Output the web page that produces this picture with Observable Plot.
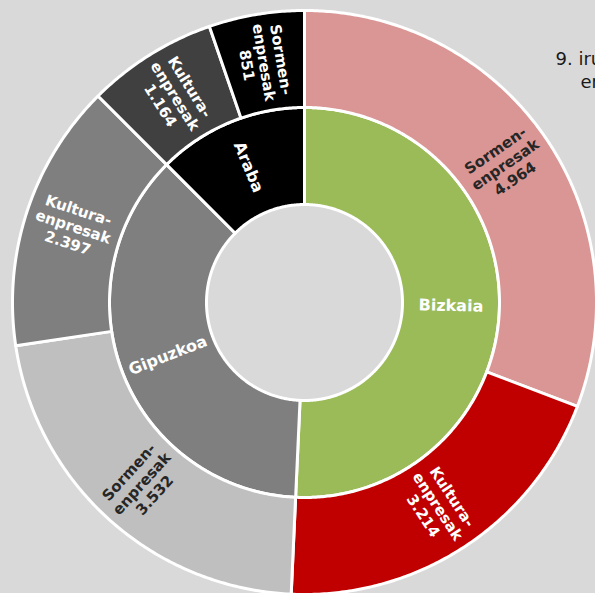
<!DOCTYPE html>
<html><head><meta charset="utf-8">
<script src="https://cdn.jsdelivr.net/npm/d3@7"></script>
<script src="https://cdn.jsdelivr.net/npm/@observablehq/plot@0.6"></script>
<style>html,body{margin:0;padding:0;background:#d9d9d9;overflow:hidden}</style>
</head><body><div id="chart"></div>
<script>
// ---- data ----
const provinces = ["Bizkaia", "Gipuzkoa", "Araba"];
const outerProvince = ["Bizkaia", "Bizkaia", "Gipuzkoa", "Gipuzkoa", "Araba", "Araba"];
const outerType = ["Sormen-enpresak", "Kultura-enpresak", "Sormen-enpresak", "Kultura-enpresak", "Kultura-enpresak", "Sormen-enpresak"];
const outerValues = [4964, 3214, 3532, 2397, 1164, 851];
const titleLines = ["9. irudia. Sormen- eta kultura-", "enpresak lurraldeka"];

// ---- styles ----
const innerColors = ["#9bbb59", "#7f7f7f", "#000000"];
const outerColors = ["#d99694", "#c00000", "#bfbfbf", "#7f7f7f", "#404040", "#000000"];
const outerTextColors = ["#262626", "#ffffff", "#262626", "#ffffff", "#ffffff", "#ffffff"];

const W = 595, H = 593, cx = 304, cy = 302, R = 292;
const rHole = 98, rMid = 195, rOut = 292;

const innerValues = provinces.map(p => d3.sum(outerValues.filter((v, i) => outerProvince[i] === p)));
const fmt = d3.formatLocale({decimal: ",", thousands: ".", grouping: [3], currency: ["", ""]}).format(",d");

const pie = d3.pie().sort(null).value(d => d.value).startAngle(0).endAngle(2 * Math.PI);
const innerArcs = pie(provinces.map((p, i) => ({name: p, value: innerValues[i], color: innerColors[i], text: "#ffffff"})));
const outerArcs = pie(outerValues.map((v, i) => ({name: outerProvince[i] + " " + outerType[i], label: outerType[i].replace("-", "-\n") + "\n" + fmt(v), value: v, color: outerColors[i], text: outerTextColors[i]})));

function polygon(arc, r0, r1, key) {
  const n = Math.max(2, Math.ceil((arc.endAngle - arc.startAngle) / (Math.PI / 360)));
  const pts = [];
  for (let k = 0; k <= n; k++) {
    const a = arc.startAngle + (arc.endAngle - arc.startAngle) * k / n;
    pts.push({key, color: arc.data.color, x: r1 * Math.sin(a), y: r1 * Math.cos(a)});
  }
  for (let k = n; k >= 0; k--) {
    const a = arc.startAngle + (arc.endAngle - arc.startAngle) * k / n;
    pts.push({key, color: arc.data.color, x: r0 * Math.sin(a), y: r0 * Math.cos(a)});
  }
  return pts;
}
const polys = [
  ...innerArcs.flatMap((a, i) => polygon(a, rHole, rMid, "in" + i)),
  ...outerArcs.flatMap((a, i) => polygon(a, rMid, rOut, "out" + i))
];

function label(arc, r, text) {
  const a = (arc.startAngle + arc.endAngle) / 2;
  const deg = a * 180 / Math.PI;
  return {x: r * Math.sin(a), y: r * Math.cos(a), text, fill: arc.data.text, rotate: deg < 180 ? deg - 90 : deg - 270};
}
const innerLabels = innerArcs.map(a => label(a, (rHole + rMid) / 2, a.data.name));
const outerLabels = outerArcs.map(a => label(a, (rMid + rOut) / 2, a.data.label));

const chart = Plot.plot({
  width: W, height: H, margin: 0,
  style: {background: "#d9d9d9", overflow: "hidden", fontFamily: "DejaVu Sans"},
  x: {domain: [-R, R], range: [cx - R, cx + R], axis: null},
  y: {domain: [-R, R], range: [cy + R, cy - R], axis: null},
  color: {type: "identity"},
  marks: [
    Plot.line(polys, {x: "x", y: "y", z: "key", fill: "color", stroke: "#ffffff", strokeWidth: 3, strokeLinejoin: "round", curve: "linear-closed"}),
    Plot.text(innerLabels, {x: "x", y: "y", text: "text", rotate: "rotate", fill: "fill", fontWeight: "bold", fontSize: 16, fontFamily: "DejaVu Sans"}),
    Plot.text(outerLabels, {x: "x", y: "y", text: "text", rotate: "rotate", fill: "fill", fontWeight: "bold", fontSize: 15, lineHeight: 1.15, fontFamily: "DejaVu Sans"}),
    Plot.text([titleLines[0]], {frameAnchor: "top-left", dx: 555, dy: 52, textAnchor: "start", lineAnchor: "top", fontSize: 18, fill: "#1a1a1a", fontFamily: "DejaVu Sans"}),
    Plot.text([titleLines[1]], {frameAnchor: "top-left", dx: 580, dy: 75, textAnchor: "start", lineAnchor: "top", fontSize: 18, fill: "#1a1a1a", fontFamily: "DejaVu Sans"})
  ]
});
document.getElementById("chart").appendChild(chart);
</script>
</body></html>
